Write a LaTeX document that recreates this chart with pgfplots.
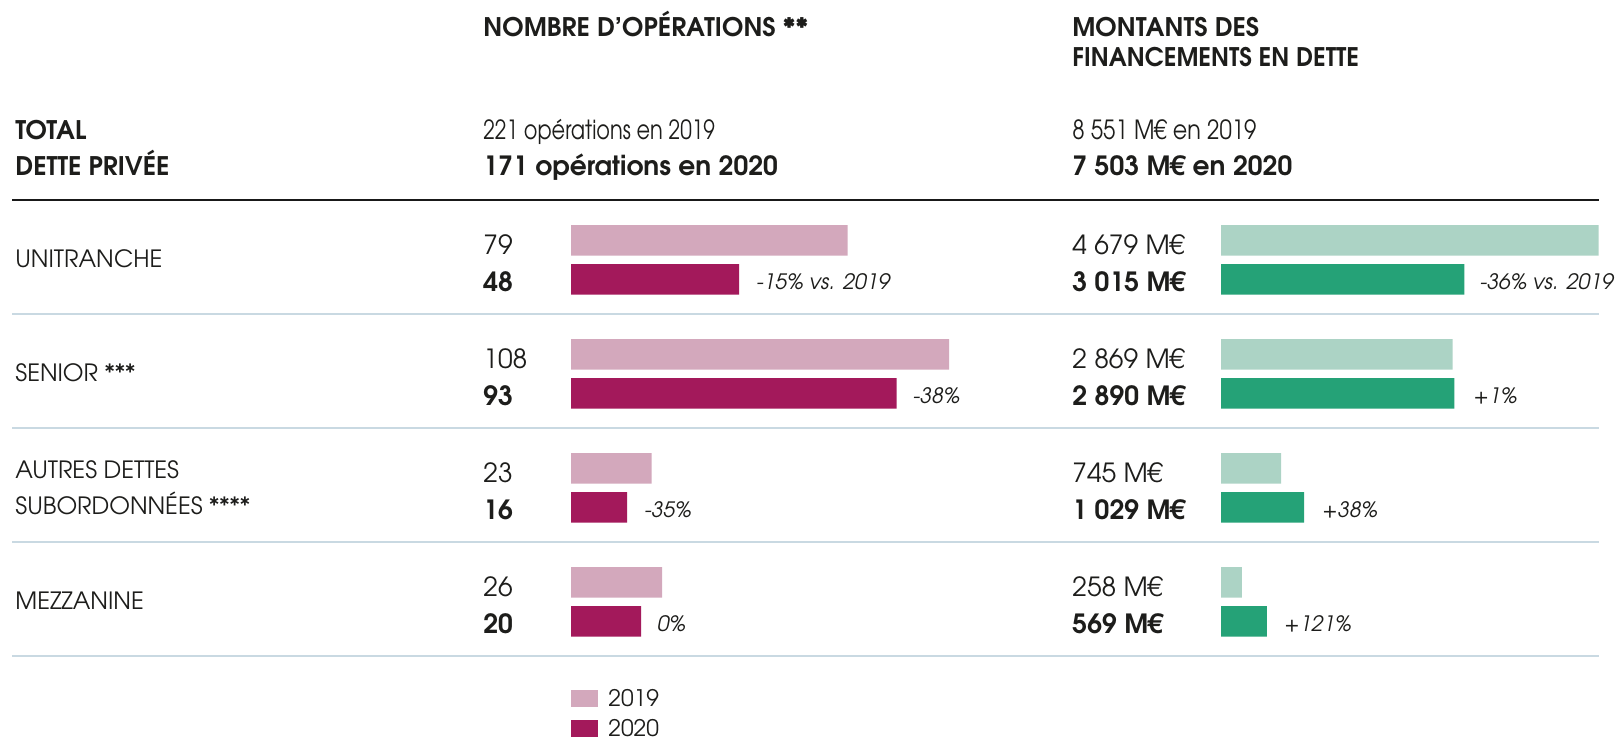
\documentclass[border=0pt]{standalone}
\usepackage{fontspec}
\setmainfont{TeX Gyre Adventor}
\newfontfamily\narrowA{TeX Gyre Adventor}[FakeStretch=0.79]
\newfontfamily\narrowB{TeX Gyre Adventor}[FakeStretch=0.843]
\usepackage{pgfplots}
\usepackage{pgfplotstable}
\pgfplotsset{compat=1.18}
\definecolor{pinkL}{HTML}{D3A8BC}
\definecolor{pinkD}{HTML}{A3195B}
\definecolor{greenL}{HTML}{ACD3C5}
\definecolor{greenD}{HTML}{25A277}
\definecolor{sepc}{HTML}{C9D9E2}
\definecolor{textc}{HTML}{1D1D1B}
\newcommand\hd{\bfseries\fontsize{12.8pt}{14pt}\selectfont}
\newcommand\lab{\fontsize{11.9pt}{13pt}\selectfont}
\newcommand\val{\fontsize{13.2pt}{14pt}\selectfont}
\newcommand\bnum{\bfseries\fontsize{13.25pt}{14pt}\selectfont}
\newcommand\totA{\narrowA\fontsize{13.2pt}{14pt}\selectfont}
\newcommand\totB{\narrowB\fontsize{13.2pt}{14pt}\selectfont}
\newcommand\pct{\itshape\fontsize{10.6pt}{12pt}\selectfont}
\newcommand\leg{\fontsize{11.4pt}{12pt}\selectfont}

\pgfplotstableread{
cat y2019 y2020
0 79 48
1 108 93
2 23 16
3 26 20
}\opsdata
\pgfplotstableread{
cat y2019 y2020
0 4679 3015
1 2869 2890
2 745 1029
3 258 569
}\amtdata

\begin{document}
\begin{tikzpicture}[every node/.style={text=textc, inner sep=0pt}]
\begin{scope}[x=0.5pt,y=-0.5pt]
  % rules
  \draw[black!90, line width=0.75pt] (12,200) -- (1599,200);
  \foreach \yy in {313.7,427.7,541.7,655.7}
    \draw[sepc, line width=0.9pt] (12,\yy) -- (1599,\yy);
  % headers
  \node[anchor=base west] at (483,36.8) {\hd NOMBRE D’OPÉRATIONS **};
  \node[anchor=base west] at (1072,36.8) {\hd MONTANTS DES};
  \node[anchor=base west] at (1072,66.8) {\hd\addfontfeature{FakeStretch=0.95}FINANCEMENTS EN DETTE};
  \node[anchor=base west] at (15,139.3) {\hd TOTAL};
  \node[anchor=base west] at (15,175.3) {\hd DETTE PRIVÉE};
  \node[anchor=base west] at (483,139.8) {\totA 221 opérations en 2019};
  \node[anchor=base west] at (483,175.7) {\bnum 171 opérations en 2020};
  \node[anchor=base west] at (1072,139.8) {\totB 8~551 M€ en 2019};
  \node[anchor=base west] at (1072,175.7) {\bnum 7~503 M€ en 2020};
  % row labels
  \node[anchor=base west] at (15,267.7) {\lab UNITRANCHE};
  \node[anchor=base west] at (15,381.7) {\lab SENIOR ***};
  \node[anchor=base west] at (15,478.7) {\lab AUTRES DETTES};
  \node[anchor=base west] at (15,514.2) {\lab SUBORDONNÉES ****};
  \node[anchor=base west] at (15,609.7) {\lab MEZZANINE};
  % left values
  \node[anchor=base west] at (483,254.6) {\val 79};
  \node[anchor=base west] at (483,291.6) {\bnum 48};
  \node[anchor=base west] at (483,368.6) {\val 108};
  \node[anchor=base west] at (483,405.6) {\bnum 93};
  \node[anchor=base west] at (483,482.6) {\val 23};
  \node[anchor=base west] at (483,519.6) {\bnum 16};
  \node[anchor=base west] at (483,596.6) {\val 26};
  \node[anchor=base west] at (483,633.6) {\bnum 20};
  % right values
  \node[anchor=base west] at (1072,254.6) {\val 4~679 M€};
  \node[anchor=base west] at (1072,291.6) {\bnum 3~015 M€};
  \node[anchor=base west] at (1072,368.6) {\val 2~869 M€};
  \node[anchor=base west] at (1072,405.6) {\bnum 2~890 M€};
  \node[anchor=base west] at (1072,482.6) {\val 745 M€};
  \node[anchor=base west] at (1072,519.6) {\bnum 1~029 M€};
  \node[anchor=base west] at (1072,596.6) {\val 258 M€};
  \node[anchor=base west] at (1072,633.6) {\bnum 569 M€};
  % legend
  \fill[pinkL] (571,690) rectangle (597.7,706.7);
  \fill[pinkD] (571,720) rectangle (597.7,736.7);
  \node[anchor=base west] at (608,706.8) {\leg 2019};
  \node[anchor=base west] at (608,736.8) {\leg 2020};
\end{scope}

\begin{axis}[
  at={(285.5pt,-100pt)}, anchor=north west,
  scale only axis, width=210pt, height=228pt,
  xmin=0, xmax=120, ymin=-0.525, ymax=3.475, y dir=reverse,
  hide axis, clip=false,
]
\addplot[xbar, bar width=15.35pt, bar shift=0pt, fill=pinkL, draw=none]
  table[x=y2019, y expr=\thisrow{cat}-0.171] {\opsdata};
\addplot[xbar, bar width=15.35pt, bar shift=0pt, fill=pinkD, draw=none]
  table[x=y2020, y expr=\thisrow{cat}+0.171] {\opsdata};
\node[anchor=west, xshift=8.5pt, yshift=-1.1pt] at (axis cs:48,0.171) {\pct -15\% vs. 2019};
\node[anchor=west, xshift=8pt, yshift=-1.1pt] at (axis cs:93,1.171) {\pct -38\%};
\node[anchor=west, xshift=8.5pt, yshift=-1.1pt] at (axis cs:16,2.171) {\pct -35\%};
\node[anchor=west, xshift=8pt, yshift=-1.1pt] at (axis cs:20,3.171) {\pct 0\%};
\end{axis}

\begin{axis}[
  at={(610.5pt,-100pt)}, anchor=north west,
  scale only axis, width=201.8pt, height=228pt,
  xmin=0, xmax=5000, ymin=-0.525, ymax=3.475, y dir=reverse,
  hide axis, clip=false,
]
\addplot[xbar, bar width=15.35pt, bar shift=0pt, fill=greenL, draw=none]
  table[x=y2019, y expr=\thisrow{cat}-0.171] {\amtdata};
\addplot[xbar, bar width=15.35pt, bar shift=0pt, fill=greenD, draw=none]
  table[x=y2020, y expr=\thisrow{cat}+0.171] {\amtdata};
\node[anchor=west, xshift=7.5pt, yshift=-1.1pt] at (axis cs:3015,0.171) {\pct -36\% vs. 2019};
\node[anchor=west, xshift=9.5pt, yshift=-1.1pt] at (axis cs:2890,1.171) {\pct +1\%};
\node[anchor=west, xshift=9pt, yshift=-1.1pt] at (axis cs:1029,2.171) {\pct +38\%};
\node[anchor=west, xshift=8.5pt, yshift=-1.1pt] at (axis cs:569,3.171) {\pct +121\%};
\end{axis}

\pgfresetboundingbox
\useasboundingbox (0,0) rectangle (808pt,-370.5pt);
\end{tikzpicture}
\end{document}
